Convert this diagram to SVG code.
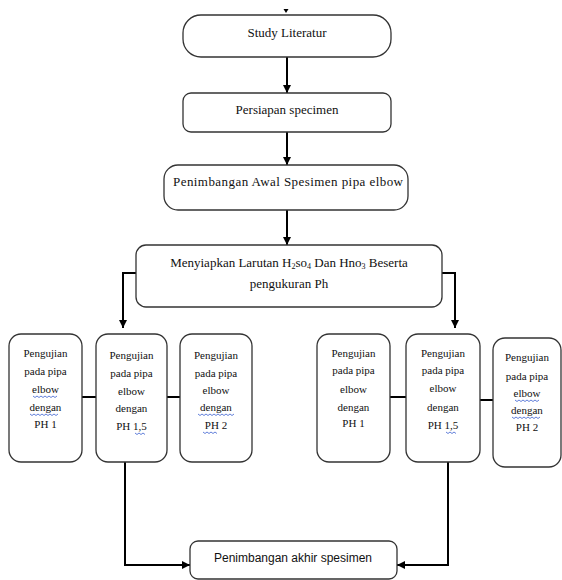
<svg xmlns="http://www.w3.org/2000/svg" width="562" height="580" viewBox="0 0 562 580">
<style>
.box{fill:#fff;stroke:#333;stroke-width:1.3}
.t{font-family:"Liberation Serif","Times New Roman",serif;font-size:13px;fill:#111;text-anchor:middle}
.s{font-family:"Liberation Serif","Times New Roman",serif;font-size:11px;fill:#111;text-anchor:middle}
.c{font-family:"Liberation Sans",Arial,sans-serif;font-size:12px;fill:#111;text-anchor:middle}
.ln{fill:none;stroke:#000;stroke-width:2}
.sq{fill:none;stroke:#3a5fd0;stroke-width:0.8}
</style>
<defs>
<marker id="ah" viewBox="0 0 10 10" refX="10" refY="5" markerWidth="4" markerHeight="4" orient="auto" markerUnits="strokeWidth">
<path d="M0,0 L10,5 L0,10 z" fill="#000"/>
</marker>
</defs>
<g id="connectors">
<polygon points="283.5,9 288.5,9 286,13" fill="#000"/>
<line class="ln" x1="287" y1="57" x2="287" y2="93" marker-end="url(#ah)"/>
<line class="ln" x1="287" y1="132" x2="287" y2="165" marker-end="url(#ah)"/>
<line class="ln" x1="287" y1="210" x2="287" y2="245" marker-end="url(#ah)"/>
<polyline class="ln" points="136,273 123,273 123,328" marker-end="url(#ah)"/>
<polyline class="ln" points="442,273 455,273 455,328" marker-end="url(#ah)"/>
<line class="ln" x1="82" y1="397" x2="96" y2="397"/>
<line class="ln" x1="167" y1="397" x2="180" y2="397"/>
<line class="ln" x1="390" y1="397" x2="406" y2="397"/>
<line class="ln" x1="480" y1="400" x2="493" y2="400"/>
<polyline class="ln" points="125,462 125,565 190,565" marker-end="url(#ah)"/>
<polyline class="ln" points="448,462 448,565 397,565" marker-end="url(#ah)"/>
</g>
<g id="study">
<rect class="box" x="183" y="15" width="208" height="42" rx="18"/>
<text class="t" x="287" y="37">Study Literatur</text>
</g>
<g id="persiapan">
<rect class="box" x="183" y="93" width="208" height="39" rx="8"/>
<text class="t" x="287" y="114">Persiapan specimen</text>
</g>
<g id="penimbangan-awal">
<rect class="box" x="164" y="165" width="244" height="45" rx="14"/>
<text class="t" x="288" y="186" textLength="230" lengthAdjust="spacing">Penimbangan Awal Spesimen pipa elbow</text>
</g>
<g id="menyiapkan">
<rect class="box" x="136" y="245" width="306" height="62" rx="10"/>
<text class="t" x="289" y="267">Menyiapkan Larutan H<tspan font-size="8" dy="2">2</tspan><tspan dy="-2">so</tspan><tspan font-size="8" dy="2">4</tspan><tspan dy="-2"> Dan Hno</tspan><tspan font-size="8" dy="2">3</tspan><tspan dy="-2"> Beserta</tspan></text>
<text class="t" x="289" y="288">pengukuran Ph</text>
</g>
<g id="uji-l1">
<rect class="box" x="9" y="334" width="73" height="128" rx="12"/>
<text class="s" x="45.5" y="357">Pengujian</text>
<text class="s" x="45.5" y="375">pada pipa</text>
<text class="s" x="45.5" y="393">elbow</text>
<text class="s" x="45.5" y="411">dengan</text>
<text class="s" x="45.5" y="428">PH 1</text>
<path class="sq" d="M33,396 l2,1.5 2,-1.5 2,1.5 2,-1.5 2,1.5 2,-1.5 2,1.5 2,-1.5 2,1.5 2,-1.5 2,1.5 2,-1.5 M30,414 l2,1.5 2,-1.5 2,1.5 2,-1.5 2,1.5 2,-1.5 2,1.5 2,-1.5 2,1.5 2,-1.5 2,1.5 2,-1.5 2,1.5 2,-1.5"/>
</g>
<g id="uji-l15">
<rect class="box" x="96" y="334" width="71" height="128" rx="12"/>
<text class="s" x="131.5" y="359">Pengujian</text>
<text class="s" x="131.5" y="377">pada pipa</text>
<text class="s" x="131.5" y="395">elbow</text>
<text class="s" x="131.5" y="412">dengan</text>
<text class="s" x="131.5" y="430">PH 1,5</text>
<path class="sq" d="M135,433 l2,1.5 2,-1.5 2,1.5 2,-1.5 2,1.5"/>
</g>
<g id="uji-l2">
<rect class="box" x="180" y="334" width="72" height="128" rx="12"/>
<text class="s" x="216" y="359">Pengujian</text>
<text class="s" x="216" y="377">pada pipa</text>
<text class="s" x="216" y="394">elbow</text>
<text class="s" x="216" y="411">dengan</text>
<text class="s" x="216" y="429">PH 2</text>
<path class="sq" d="M198,414 l2,1.5 2,-1.5 2,1.5 2,-1.5 2,1.5 2,-1.5 2,1.5 2,-1.5 2,1.5 2,-1.5 2,1.5 2,-1.5 2,1.5 2,-1.5 2,1.5 2,-1.5 2,1.5 2,-1.5 M203,432 l2,1.5 2,-1.5 2,1.5 2,-1.5 2,1.5 2,-1.5 2,1.5"/>
</g>
<g id="uji-r1">
<rect class="box" x="317" y="334" width="73" height="128" rx="12"/>
<text class="s" x="353.5" y="357">Pengujian</text>
<text class="s" x="353.5" y="374">pada pipa</text>
<text class="s" x="353.5" y="393">elbow</text>
<text class="s" x="353.5" y="411">dengan</text>
<text class="s" x="353.5" y="427">PH 1</text>
</g>
<g id="uji-r15">
<rect class="box" x="406" y="334" width="74" height="128" rx="12"/>
<text class="s" x="443" y="357">Pengujian</text>
<text class="s" x="443" y="374">pada pipa</text>
<text class="s" x="443" y="392">elbow</text>
<text class="s" x="443" y="411">dengan</text>
<text class="s" x="443" y="429">PH 1,5</text>
<path class="sq" d="M446,432 l2,1.5 2,-1.5 2,1.5 2,-1.5 2,1.5"/>
</g>
<g id="uji-r2">
<rect class="box" x="493" y="338" width="68" height="129" rx="12"/>
<text class="s" x="527" y="361">Pengujian</text>
<text class="s" x="527" y="380">pada pipa</text>
<text class="s" x="527" y="397">elbow</text>
<text class="s" x="527" y="414">dengan</text>
<text class="s" x="527" y="431">PH 2</text>
<path class="sq" d="M515,400 l2,1.5 2,-1.5 2,1.5 2,-1.5 2,1.5 2,-1.5 2,1.5 2,-1.5 2,1.5 2,-1.5 2,1.5 2,-1.5 M512,417 l2,1.5 2,-1.5 2,1.5 2,-1.5 2,1.5 2,-1.5 2,1.5 2,-1.5 2,1.5 2,-1.5 2,1.5 2,-1.5 2,1.5 2,-1.5"/>
</g>
<g id="penimbangan-akhir">
<rect class="box" x="190" y="541" width="207" height="38" rx="8"/>
<text class="c" x="293" y="562">Penimbangan akhir spesimen</text>
</g>
</svg>
